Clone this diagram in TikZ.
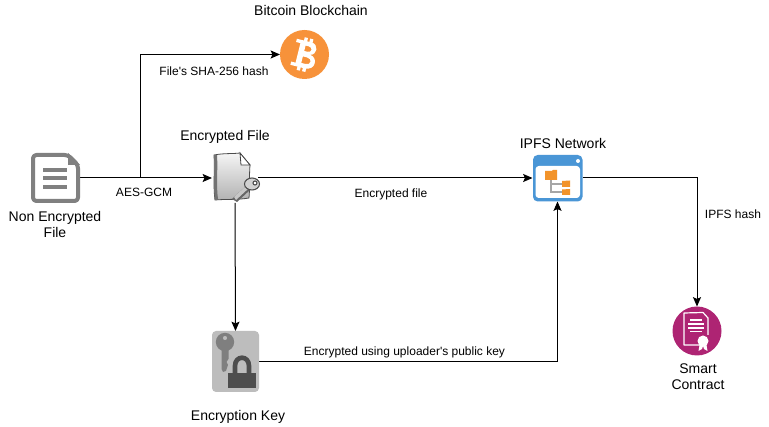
\documentclass[tikz,border=0pt]{standalone}
\usepackage{fontspec}
\setmainfont{Liberation Sans}
\newfontfamily\labelfont{Liberation Sans}
\usetikzlibrary{arrows.meta,shapes.geometric}
\definecolor{docgray}{HTML}{808080}
\definecolor{btcorange}{HTML}{F7923A}
\definecolor{ipfsblue}{HTML}{4A96D6}
\definecolor{folder}{HTML}{F2932A}
\definecolor{keybg}{HTML}{BDBDBD}
\definecolor{keygray}{HTML}{7F7F7F}
\definecolor{lockgray}{HTML}{4D4D4D}
\definecolor{contract}{HTML}{AE2473}
\tikzset{
  icon/.style={inner sep=0pt,outer sep=0pt,minimum width=#1},
  big/.style={font=\fontsize{10.5}{12}\selectfont,inner sep=0pt,align=center},
  small/.style={font=\labelfont\fontsize{9}{10}\selectfont,inner sep=0pt},
  link/.style={draw=black,line width=.75pt,-{Stealth[length=7pt,width=6pt,inset=1.3pt]}},
  plainlink/.style={draw=black,line width=.75pt}
}
\begin{document}
\begin{tikzpicture}[x=.75pt,y=-.75pt]
\useasboundingbox[fill=white] (0,0) rectangle (769,427);

% anchor nodes
\node[icon=36.75pt,minimum height=37.5pt] (doc) at (55.5,178) {};
\node[icon=34.5pt,minimum height=37.5pt] (enc) at (235,178) {};
\node[icon=37.5pt,minimum height=35.25pt] (ipfs) at (557.5,178) {};
\node[icon=35.25pt,minimum height=45.75pt] (key) at (235.5,361.5) {};
\node[icon=36.75pt,minimum height=36.75pt,circle] (btc) at (304.5,54.5) {};
\node[icon=36.75pt,minimum height=36.75pt,circle] (sc) at (697,331) {};
\coordinate (branch) at (140.5,178);

% connectors
\draw[plainlink] (doc.east) -- (branch);
\draw[link] (branch) -- (enc.west);
\draw[link] (branch) |- (btc.west);
\draw[link] (enc.east) -- (ipfs.west);
\draw[link] (enc.south) -- (key.north);
\draw[link] (key.east) -| (ipfs.south);
\draw[link] (ipfs.east) -| (sc.north);

% document icon
\draw[docgray,line width=3pt,line join=round,rounded corners=2.5pt]
  (33,155) -- (68,155) -- (78,165) -- (78,201) -- (33,201) -- cycle;
\fill[docgray] (68,153) -- (80,165) -- (68,165) -- cycle;
\foreach \yy in {170,178,187}
  \fill[docgray] (43,\yy-1.8) rectangle (67,\yy+1.8);

% encrypted file icon
\shade[top color=black!4,bottom color=black!30,draw=black!70,line width=.6pt]
  (214,155) .. controls (225,153) and (232,154) .. (240,153) -- (250,165)
  .. controls (249,178) and (250,188) .. (249,198) .. controls (238,200) and (226,199) .. (215,200)
  .. controls (213,185) and (215,170) .. (214,155) -- cycle;
\fill[black!55] (214,155) -- (217,155) .. controls (218,170) and (216,185) .. (218,199) -- (215,200) .. controls (213,185) and (215,170) .. (214,155) -- cycle;
\draw[black!75,line width=.6pt,fill=white] (240,153) -- (241,165) -- (250,165) -- cycle;
\fill[black!60] (232,199) -- (246,186) -- (250,190) -- (237,202) -- cycle;
\fill[black!22] (234,197) -- (247,185) -- (249,188) -- (236,200) -- cycle;
\draw[black!70,line width=.8pt,fill=black!18,even odd rule] (252,184) ellipse[x radius=7.5,y radius=6] (255,183) circle[radius=2];

% bitcoin icon
\fill[btcorange] (btc.center) circle[radius=24.5];
\begin{scope}[shift={(304.5,54.5)},rotate=-14,scale=1.12]
  \fill[white,even odd rule]
    (-10,-12) -- (3,-12) .. controls (11,-12) and (11,-2) .. (5,-1)
    .. controls (13,0) and (13,12) .. (3,12) -- (-10,12) -- (-10,9) -- (-6,9) -- (-6,-9) -- (-10,-9) -- cycle
    (-1,-8) -- (2,-8) .. controls (6,-8) and (6,-3) .. (2,-3) -- (-1,-3) -- cycle
    (-1,2) -- (3,2) .. controls (8,2) and (8,8) .. (3,8) -- (-1,8) -- cycle;
  \fill[white] (-3.5,-15) rectangle (-0.5,-11) (1.5,-15) rectangle (4.5,-11)
               (-3.5,11) rectangle (-0.5,15) (1.5,11) rectangle (4.5,15);
\end{scope}

% IPFS icon
\fill[ipfsblue,rounded corners=3.5pt] (533,155) rectangle (582.5,201.5);
\fill[white,rounded corners=2.5pt] (535.5,166) rectangle (580,198);
\fill[white] (578,161) circle[radius=2];
\draw[black!35,line width=1.2pt] (551,180) -- (551,192) -- (562,192) (551,184) -- (562,184);
\fill[folder] (545,171) -- (552,171) -- (553,170) -- (557,170) -- (557,180) -- (545,180) -- cycle;
\fill[folder] (562,181) -- (570,180.5) -- (570,187) -- (562,187) -- cycle;
\fill[folder] (562,189.5) -- (570,189) -- (570,195) -- (562,195) -- cycle;

% key icon
\fill[keybg,rounded corners=3pt] (212,331) rectangle (259,392);
\fill[keygray,even odd rule] (225,342) circle[radius=9.2] (225,338) circle[radius=2.2];
\fill[keygray] (221.5,348) -- (228.5,348) -- (228.5,359) -- (226.5,362) -- (228,365) -- (226,371) -- (223,372) -- (221.5,369) -- cycle;
\draw[lockgray,line width=3.5pt] (235,374) -- (235,366) .. controls (235,355) and (249,355) .. (249,366) -- (249,374);
\fill[lockgray] (228,373) rectangle (255.5,388);

% smart contract icon
\fill[contract] (sc.center) circle[radius=24.5];
\draw[white,line width=.9pt,line join=round] (700,345) -- (684,345) -- (684,313) -- (703,312.5) -- (708,318) -- (708,335);
\foreach \yy/\hw in {320/6,324/8,328/8,331.5/6}
  \draw[white,line width=1pt] (696-\hw,\yy) -- (696+\hw,\yy);
\fill[white] (703,341) circle[radius=5.5];
\fill[white] (699.5,345) -- (698.5,351) -- (702,349) -- (703,346) -- (704,349) -- (707.5,351) -- (706.5,345) -- cycle;

% labels
\node[big] (t1) at (311,11) {Bitcoin Blockchain};
\node[small] (t2) at (214,71.5) {File's SHA-256 hash};
\node[big] (t3) at (225,137) {Encrypted File};
\node[small] (t4) at (144,192.5) {AES-GCM};
\node[big] (t5) at (55,224.5) {Non Encrypted\\File};
\node[small] (t6) at (391,194) {Encrypted file};
\node[big] (t7) at (563,144) {IPFS Network};
\node[small] (t8) at (733,214.5) {IPFS hash};
\node[small] (t9) at (404.5,352.5) {Encrypted using uploader's public key};
\node[big] (t10) at (238,417) {Encryption Key};
\node[big] (t11) at (698,377) {Smart\\Contract};
\end{tikzpicture}
\end{document}
